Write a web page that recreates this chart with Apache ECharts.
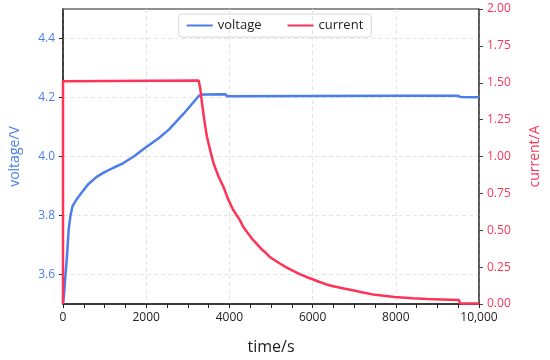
<!DOCTYPE html>
<html><head><meta charset="utf-8">
<script src="https://cdn.jsdelivr.net/npm/echarts@6/dist/echarts.min.js"></script>
<style>html,body{margin:0;padding:0;background:#fff}#c{width:550px;height:360px}</style>
</head><body><div id="c"></div>
<script>
// time (s) and voltage (V)
const voltageTime = [0, 30, 55, 95, 135, 180, 230, 320, 450, 600, 808, 1000, 1200, 1441, 1700, 1995, 2300, 2550, 2900, 3262, 3350, 3900, 3950, 6000, 8000, 9500, 9550, 10000];
const voltageVals = [3.50, 3.54, 3.59, 3.66, 3.751, 3.80, 3.832, 3.853, 3.878, 3.905, 3.931, 3.947, 3.961, 3.977, 4.00, 4.031, 4.062, 4.092, 4.145, 4.205, 4.210, 4.211, 4.204, 4.205, 4.206, 4.206, 4.202, 4.201];
// time (s) and current (A)
const currentTime = [0, 0, 3262, 3300, 3342, 3400, 3460, 3540, 3618, 3730, 3856, 3970, 4093, 4252, 4331, 4450, 4568, 4648, 4760, 4885, 4964, 5080, 5202, 5360, 5519, 5680, 5835, 6000, 6152, 6300, 6468, 6750, 7023, 7181, 7500, 7974, 8400, 8765, 9100, 9517, 9550, 10000];
const currentVals = [0, 1.51, 1.515, 1.46, 1.361, 1.24, 1.134, 1.04, 0.954, 0.87, 0.795, 0.71, 0.637, 0.569, 0.524, 0.478, 0.434, 0.411, 0.375, 0.344, 0.321, 0.298, 0.276, 0.25, 0.226, 0.205, 0.185, 0.168, 0.151, 0.136, 0.122, 0.105, 0.09, 0.08, 0.062, 0.047, 0.039, 0.034, 0.031, 0.027, 0.003, 0.003];
const voltageTicks = [3.6, 3.8, 4.0, 4.2, 4.4];
const xTickLabels = {0: '0', 2000: '2000', 4000: '4000', 6000: '6000', 8000: '8000', 10000: '10,000'};

const BLUE = '#4a7ee9', RED = '#ff3358';
const FONT = '"Open Sans", "Noto Sans", sans-serif';
const chart = echarts.init(document.getElementById('c'));
chart.setOption({
  animation: false,
  textStyle: {fontFamily: FONT},
  grid: {left: 61, right: 68, top: 9, bottom: 56, show: true, borderColor: '#222', borderWidth: 1},
  legend: {
    top: 14, left: 'center', itemWidth: 26, itemHeight: 10, itemGap: 26,
    borderColor: '#d6d6d6', borderWidth: 1, borderRadius: 3, padding: [5, 8, 5, 8],
    textStyle: {fontSize: 13, color: '#222', fontFamily: FONT},
    data: [{name: 'voltage', icon: 'path://M0,4L26,4L26,6L0,6Z'}, {name: 'current', icon: 'path://M0,4L26,4L26,6L0,6Z'}]
  },
  xAxis: {
    type: 'value', min: 0, max: 10000, interval: 2000,
    name: 'time/s', nameLocation: 'middle', nameGap: 35,
    nameTextStyle: {fontSize: 16, color: '#222', fontFamily: FONT},
    axisLine: {lineStyle: {color: '#222', width: 1.5}},
    axisTick: {show: true, length: 4, lineStyle: {color: '#222'}},
    minorTick: {show: true, splitNumber: 4, length: 4, lineStyle: {color: '#222'}},
    axisLabel: {fontSize: 12, color: '#222', margin: 8, formatter: v => xTickLabels[v] !== undefined ? xTickLabels[v] : ''},
    splitLine: {show: true, lineStyle: {color: '#e4e4e4', type: [4, 3]}}
  },
  yAxis: [{
    type: 'value', min: 3.5, max: 4.5, position: 'left',
    name: 'voltage/V', nameLocation: 'middle', nameGap: 41,
    nameTextStyle: {fontSize: 14, color: BLUE, fontFamily: FONT},
    axisLine: {show: true, lineStyle: {color: '#222', width: 1.5}},
    axisTick: {show: true, length: 4, customValues: voltageTicks, lineStyle: {color: '#222'}},
    axisLabel: {fontSize: 12, color: BLUE, customValues: voltageTicks, formatter: v => v.toFixed(1)},
    splitLine: {show: true, lineStyle: {color: '#e4e4e4', type: [4, 3]}}
  }, {
    type: 'value', min: 0, max: 2, interval: 0.25, position: 'right',
    name: 'current/A', nameLocation: 'middle', nameGap: 49,
    nameTextStyle: {fontSize: 14, color: RED, fontFamily: FONT},
    axisLine: {show: true, lineStyle: {color: '#444', width: 1.5}},
    axisTick: {show: true, length: 4, lineStyle: {color: '#444'}},
    axisLabel: {fontSize: 12, color: RED, formatter: v => v.toFixed(2)},
    splitLine: {show: false}
  }],
  series: [{
    name: 'voltage', type: 'line', yAxisIndex: 0, showSymbol: false,
    color: BLUE, lineStyle: {width: 2.5, color: BLUE},
    data: voltageTime.map((t, i) => [t, voltageVals[i]])
  }, {
    name: 'current', type: 'line', yAxisIndex: 1, showSymbol: false,
    color: RED, lineStyle: {width: 2.5, color: RED},
    data: currentTime.map((t, i) => [t, currentVals[i]])
  }]
});
</script></body></html>
